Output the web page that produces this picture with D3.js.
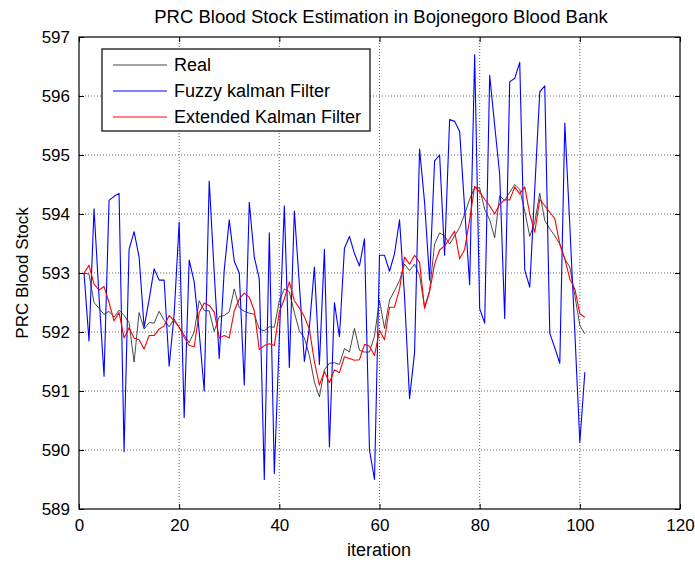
<!DOCTYPE html>
<html>
<head>
<meta charset="utf-8">
<script src="https://cdn.jsdelivr.net/npm/d3@7"></script>
<style>
  html, body { margin: 0; padding: 0; background: #fff; }
  svg { display: block; }
  text { font-family: "Liberation Sans", Arial, Helvetica, sans-serif; fill: #000; }
</style>
</head>
<body>
<svg id="chart" width="695" height="563"></svg>
<script>
// ---------- data ----------
const title = "PRC Blood Stock Estimation in Bojonegoro Blood Bank";
const xLabel = "iteration";
const yLabel = "PRC Blood Stock";
const seriesNames = ["Real", "Fuzzy kalman Filter", "Extended Kalman Filter"];
const xTicks = [0, 20, 40, 60, 80, 100, 120];
const yTicks = [589, 590, 591, 592, 593, 594, 595, 596, 597];

const real = [593.0, 592.98, 592.5, 592.4, 592.3, 592.35, 592.25, 592.37, 592.28, 592.16,
  591.49, 592.33, 592.05, 592.16, 592.15, 592.35, 592.2, 592.09, 592.22, 592.08,
  591.95, 591.82, 592.0, 592.53, 592.36, 592.36, 592.01, 592.26, 592.28, 592.34,
  592.73, 592.41, 592.35, 592.32, 592.3, 592.05, 592.02, 592.09, 592.08, 592.53,
  592.73, 592.68, 592.33, 592.02, 591.9, 591.6, 591.15, 590.9, 591.36, 591.47,
  591.48, 591.45, 591.72, 591.66, 592.06, 591.69, 591.66, 591.66, 591.93, 592.54,
  592.06, 592.54, 592.7, 592.87, 593.15, 593.04, 593.15, 592.96, 592.42, 592.7,
  593.49, 593.68, 593.63, 593.49, 593.63, 593.77, 594.0, 594.25, 594.45, 594.44,
  594.08, 593.9, 593.6, 594.31, 594.23, 594.37, 594.5, 594.42, 594.05, 593.62,
  593.86, 594.35, 593.89, 593.75, 593.63, 593.49, 593.24, 593.1, 592.62, 592.11,
  591.97];

const fuzzy = [593.0, 591.85, 594.09, 592.6, 591.25, 594.23, 594.3, 594.35, 589.97, 593.4,
  593.7, 593.27, 592.08, 592.55, 593.07, 592.88, 592.88, 591.42, 592.3, 593.86,
  590.55, 593.22, 592.85, 592.0, 591.0, 594.56, 593.0, 591.55, 593.05, 593.9,
  593.2, 593.0, 591.1, 594.2, 593.27, 592.9, 589.5, 593.68, 589.6, 591.9,
  594.14, 591.4, 594.05, 592.8, 591.5, 592.08, 593.1, 591.45, 593.4, 590.05,
  592.5, 591.92, 593.42, 593.62, 593.33, 593.12, 593.58, 590.0, 589.5, 593.3,
  593.3, 593.03, 593.33, 593.9, 592.6, 590.87, 591.65, 595.1, 594.2, 592.88,
  594.9, 595.0, 593.3, 595.6, 595.57, 595.4, 594.1, 592.8, 596.7, 592.4,
  592.15, 596.35, 595.5, 594.67, 592.23, 596.24, 596.3, 596.57, 593.05, 592.76,
  594.42, 596.07, 596.17, 591.98, 591.73, 591.47, 595.54, 593.8, 592.0, 590.13,
  591.32];

const ekf = [593.0, 593.13, 592.81, 592.71, 592.77, 592.5, 592.19, 592.33, 591.9, 592.07,
  591.9, 591.87, 591.71, 591.94, 591.94, 592.05, 592.1, 592.28, 592.19, 592.08,
  591.91, 591.77, 591.75, 592.33, 592.49, 592.45, 592.34, 591.9, 591.94, 591.9,
  592.36, 592.56, 592.66, 592.59, 592.36, 591.7, 591.77, 591.8, 591.77, 592.34,
  592.56, 592.85, 592.53, 592.41, 592.26, 592.05, 591.5, 591.1, 591.33, 591.14,
  591.36, 591.31, 591.58, 591.55, 591.52, 591.53, 591.79, 591.76, 591.6, 592.03,
  591.87, 592.42, 592.42, 592.73, 593.27, 593.15, 593.3, 593.18, 592.4, 592.68,
  593.15, 593.39, 593.46, 593.58, 593.71, 593.24, 593.4, 593.9, 594.47, 594.37,
  594.25, 594.14, 594.0, 594.17, 594.24, 594.24, 594.46, 594.34, 594.46, 594.0,
  593.69, 594.25, 594.14, 594.03, 593.92, 593.49, 593.24, 592.9, 592.73, 592.31,
  592.25];

const colors = ["#1a1a1a", "#0000ff", "#ff0000"];

// ---------- layout ----------
const plot = { left: 79, right: 680, top: 37, bottom: 509 };

const svg = d3.select("#chart");
const x = d3.scaleLinear().domain([0, 120]).range([plot.left, plot.right]);
const y = d3.scaleLinear().domain([589, 597]).range([plot.bottom, plot.top]);

// grid
const grid = svg.append("g").attr("class", "grid");
grid.selectAll("line.gx").data(xTicks.slice(1, -1)).join("line")
  .attr("x1", d => x(d)).attr("x2", d => x(d))
  .attr("y1", plot.top).attr("y2", plot.bottom)
  .attr("stroke", "#666").attr("stroke-width", 1).attr("stroke-dasharray", "1,2");
grid.selectAll("line.gy").data(yTicks.slice(1, -1)).join("line")
  .attr("x1", plot.left).attr("x2", plot.right)
  .attr("y1", d => y(d)).attr("y2", d => y(d))
  .attr("stroke", "#666").attr("stroke-width", 1).attr("stroke-dasharray", "1,2");

// series
const line = d3.line().x((d, i) => x(i + 1)).y(d => y(d));
const allSeries = [real, fuzzy, ekf];
const widths = [0.8, 1.1, 1.1];
svg.append("g").selectAll("path").data(allSeries).join("path")
  .attr("d", d => line(d))
  .attr("fill", "none")
  .attr("stroke", (d, i) => colors[i])
  .attr("stroke-width", (d, i) => widths[i])
  .attr("stroke-linejoin", "round");

// axes (ticks inward, box)
const tickLen = 5;
const fs = 17;
const xAxis = d3.axisBottom(x).tickValues(xTicks).tickSize(-tickLen).tickPadding(10).tickFormat(d3.format("d"));
const yAxis = d3.axisLeft(y).tickValues(yTicks).tickSize(-tickLen).tickPadding(9).tickFormat(d3.format("d"));
const xTop = d3.axisTop(x).tickValues(xTicks).tickSize(-tickLen).tickFormat("");
const yRight = d3.axisRight(y).tickValues(yTicks).tickSize(-tickLen).tickFormat("");

function styleAxis(g) {
  g.select(".domain").remove();
  g.selectAll(".tick line").attr("stroke", "#000");
  g.selectAll(".tick text").style("font-size", fs + "px").attr("fill", "#000");
}
svg.append("g").attr("transform", `translate(0,${plot.bottom})`).call(xAxis).call(styleAxis);
svg.append("g").attr("transform", `translate(${plot.left},0)`).call(yAxis).call(styleAxis);
svg.append("g").attr("transform", `translate(0,${plot.top})`).call(xTop).call(styleAxis);
svg.append("g").attr("transform", `translate(${plot.right},0)`).call(yRight).call(styleAxis);

svg.append("rect")
  .attr("x", plot.left).attr("y", plot.top)
  .attr("width", plot.right - plot.left).attr("height", plot.bottom - plot.top)
  .attr("fill", "none").attr("stroke", "#000").attr("stroke-width", 1.2);

// title & labels
svg.append("text").attr("x", 381).attr("y", 23)
  .attr("text-anchor", "middle").style("font-size", "18.5px").text(title);
svg.append("text").attr("x", 379).attr("y", 556)
  .attr("text-anchor", "middle").style("font-size", "18px").text(xLabel);
svg.append("text").attr("transform", `translate(28,${(plot.top + plot.bottom) / 2}) rotate(-90)`)
  .attr("text-anchor", "middle").style("font-size", "17px").text(yLabel);

// legend
const lg = svg.append("g").attr("transform", `translate(102,49)`);
lg.append("rect").attr("width", 268).attr("height", 82)
  .attr("fill", "#fff").attr("stroke", "#000").attr("stroke-width", 1.2);
const rows = lg.selectAll("g.row").data(seriesNames).join("g")
  .attr("transform", (d, i) => `translate(0,${16 + i * 26})`);
rows.append("line").attr("x1", 11).attr("x2", 65).attr("y1", 0).attr("y2", 0)
  .attr("stroke", (d, i) => colors[i]).attr("stroke-width", (d, i) => widths[i]);
rows.append("text").attr("x", 72).attr("y", 0).attr("dy", "0.35em")
  .style("font-size", "18px").text(d => d);
</script>
</body>
</html>
